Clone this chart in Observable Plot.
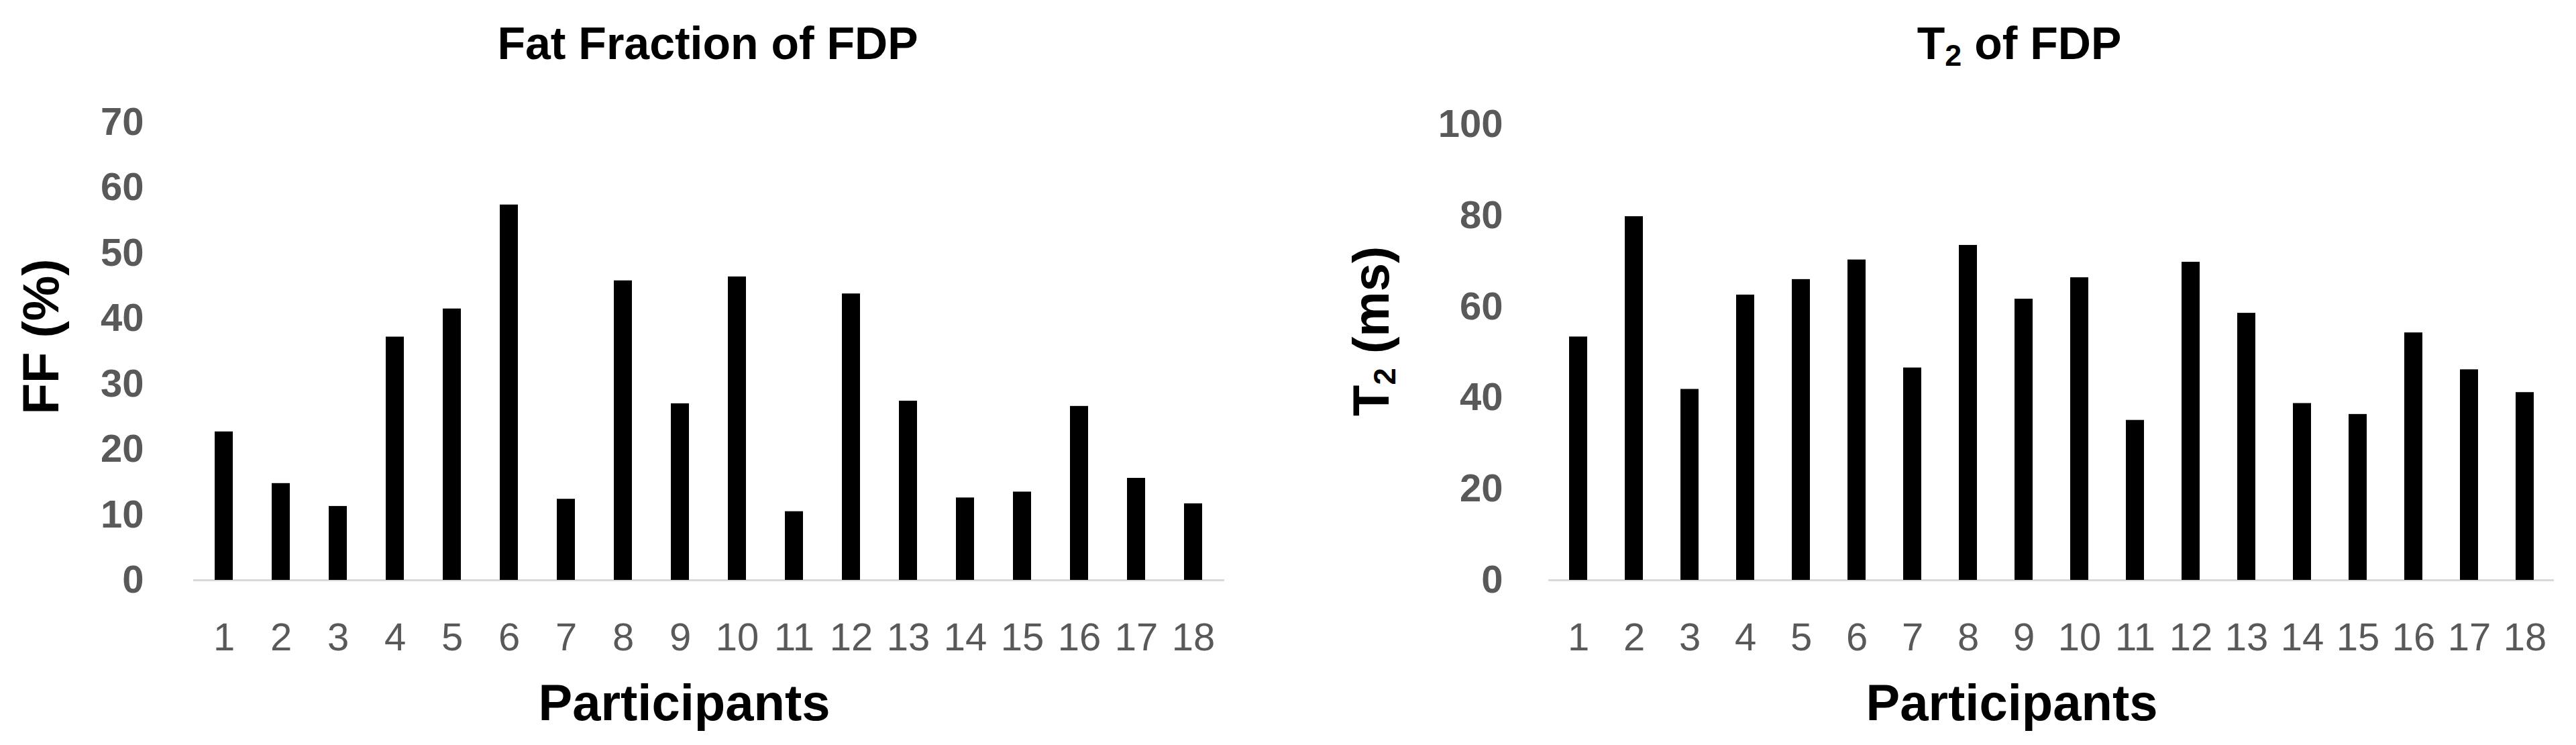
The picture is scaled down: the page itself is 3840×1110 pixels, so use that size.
<!DOCTYPE html>
<html>
<head>
<meta charset="utf-8">
<script src="https://cdn.jsdelivr.net/npm/d3@7"></script>
<script src="https://cdn.jsdelivr.net/npm/@observablehq/plot@0.6"></script>
<style>
html, body { margin: 0; padding: 0; background: #fff; }
#wrap { position: relative; width: 3840px; height: 1110px; font-family: "Liberation Sans", Arial, sans-serif; overflow: hidden; }
.panel { position: absolute; top: 0; width: 1920px; height: 1110px; }
.title { position: absolute; top: 30px; transform: translateX(-50%); font-size: 68px; font-weight: bold; line-height: 1; white-space: nowrap; color: #000; }
.title sub { font-size: 0.66em; vertical-align: -0.22em; line-height: 0; }
.chart { position: absolute; top: 110px; left: 0; }
</style>
</head>
<body>
<div id="wrap">
  <div class="panel" style="left:0">
    <div class="title" style="left:1055px">Fat Fraction of FDP</div>
    <div class="chart" id="c1"></div>
  </div>
  <div class="panel" style="left:1920px">
    <div class="title" style="left:1090px">T<sub>2</sub> of FDP</div>
    <div class="chart" id="c2"></div>
  </div>
</div>
<script>
const participants = ["1","2","3","4","5","6","7","8","9","10","11","12","13","14","15","16","17","18"];
const fatFraction = [22.7, 14.8, 11.3, 37.2, 41.5, 57.4, 12.4, 45.8, 27.0, 46.4, 10.5, 43.8, 27.4, 12.6, 13.5, 26.6, 15.6, 11.7];
const t2Values = [53.4, 79.8, 41.9, 62.6, 66.0, 70.3, 46.6, 73.5, 61.7, 66.4, 35.1, 69.8, 58.6, 38.8, 36.4, 54.3, 46.2, 41.2];
const ffTicks = [0, 10, 20, 30, 40, 50, 60, 70];
const t2Ticks = [0, 20, 40, 60, 80, 100];
const xTitle = "Participants";
const ffLabel = "FF (%)";
const t2Label = "T2 (ms)";

function barChart(o) {
  const data = participants.map((p, i) => ({participant: p, value: o.values[i]}));
  return Plot.plot({
    width: 1920,
    height: 1000,
    marginLeft: o.marginLeft,
    marginRight: o.marginRight,
    marginTop: o.marginTop,
    marginBottom: 246,
    style: {fontFamily: '"Liberation Sans", Arial, sans-serif', background: "white", color: "black", overflow: "visible"},
    x: {type: "band", domain: participants, paddingInner: 0.68, paddingOuter: 0.34, label: null},
    y: {domain: [0, o.yMax], label: null},
    marks: [
      Plot.ruleY([0], {stroke: "#d9d9d9", strokeWidth: 3}),
      Plot.barY(data, {x: "participant", y: "value", fill: "black"}),
      Plot.axisY({ticks: o.ticks, tickSize: 0, tickPadding: o.tickPad, fontSize: 58, fontWeight: "bold", color: "#595959", label: null}),
      Plot.axisX({tickSize: 0, tickPadding: 63, fontSize: 58, color: "#595959", label: null}),
      Plot.text([o.yLabel], {text: d => d, frameAnchor: "left", dx: o.yLabelDx, dy: o.yLabelDy, rotate: -90, fontSize: 76, fontWeight: "bold", fill: "black"}),
      Plot.text([xTitle], {text: d => d, frameAnchor: "bottom", lineAnchor: "bottom", dx: o.xLabelDx, dy: 208, fontSize: 76, fontWeight: "bold", fill: "black"})
    ]
  });
}

const chart1 = barChart({values: fatFraction, ticks: ffTicks, yMax: 70, yLabel: ffLabel,
  marginLeft: 288, marginRight: 95, marginTop: 72, tickPad: 74, yLabelDx: -226, yLabelDy: 94, xLabelDx: -37});
const chart2 = barChart({values: t2Values, ticks: t2Ticks, yMax: 100, yLabel: t2Label,
  marginLeft: 388, marginRight: 33, marginTop: 75, tickPad: 68, yLabelDx: -263, yLabelDy: 95, xLabelDx: -59});

document.getElementById("c1").appendChild(chart1);
document.getElementById("c2").appendChild(chart2);

// render the "2" of T2 as a subscript
chart2.querySelectorAll("text").forEach(t => {
  if (t.textContent === t2Label) {
    while (t.firstChild) t.removeChild(t.firstChild);
    const ns = "http://www.w3.org/2000/svg";
    const a = document.createElementNS(ns, "tspan"); a.textContent = "T";
    const b = document.createElementNS(ns, "tspan"); b.textContent = "2";
    b.setAttribute("font-size", "0.6em"); b.setAttribute("dy", "0.22em");
    const c = document.createElementNS(ns, "tspan"); c.textContent = "\u00a0(ms)";
    c.setAttribute("dy", "-0.13em");
    t.appendChild(a); t.appendChild(b); t.appendChild(c);
  }
});
</script>
</body>
</html>
